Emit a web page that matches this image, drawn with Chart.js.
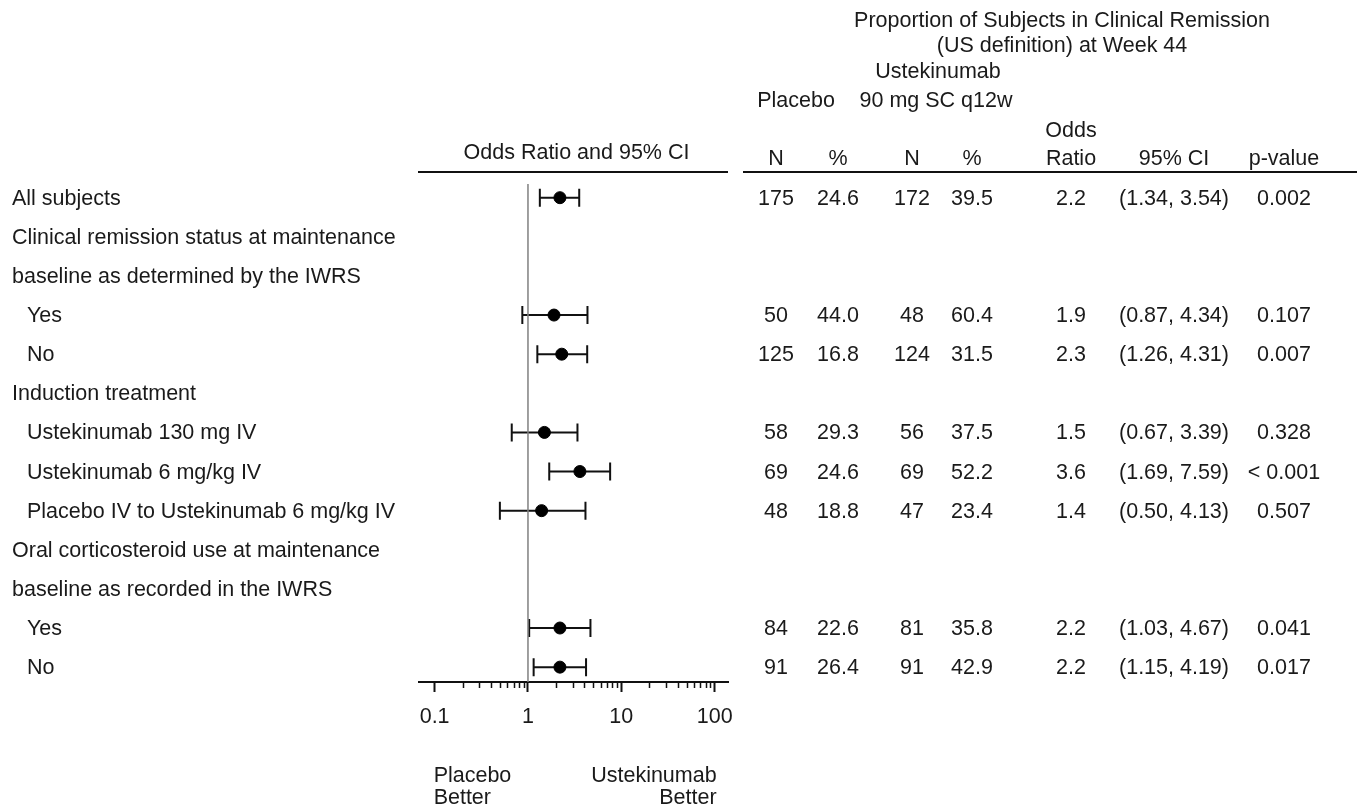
<!DOCTYPE html>
<html>
<head>
<meta charset="utf-8">
<script src="https://cdn.jsdelivr.net/npm/chart.js@4.4.0/dist/chart.umd.min.js"></script>
<style>
  html, body { margin: 0; padding: 0; background: #fff; }
  #wrap { position: relative; width: 1361px; height: 808px; overflow: hidden; }
  #chart { position: absolute; left: 0; top: 0; }
  #text { position: absolute; left: 0; top: 0; width: 1361px; height: 808px; pointer-events: none;
          font-family: "Liberation Sans", Arial, sans-serif; font-size: 21.5px; color: #1a1a1a; }
  #text div { position: absolute; line-height: 24px; white-space: nowrap; }
</style>
</head>
<body>
<div id="wrap">
  <canvas id="chart" width="1361" height="808"></canvas>
  <div id="text"></div>
</div>
<script>
// rows, top to bottom
const rowLabels = [
  'All subjects',
  'Clinical remission status at maintenance',
  'baseline as determined by the IWRS',
  'Yes',
  'No',
  'Induction treatment',
  'Ustekinumab 130 mg IV',
  'Ustekinumab 6 mg/kg IV',
  'Placebo IV to Ustekinumab 6 mg/kg IV',
  'Oral corticosteroid use at maintenance',
  'baseline as recorded in the IWRS',
  'Yes',
  'No'
];
const rowIndent = [0, 0, 0, 1, 1, 0, 1, 1, 1, 0, 0, 1, 1];

const oddsRatio = [2.2, null, null, 1.9, 2.3, null, 1.5, 3.6, 1.4, null, null, 2.2, 2.2];
const ciLow     = [1.34, null, null, 0.87, 1.26, null, 0.67, 1.69, 0.50, null, null, 1.03, 1.15];
const ciHigh    = [3.54, null, null, 4.34, 4.31, null, 3.39, 7.59, 4.13, null, null, 4.67, 4.19];
const placeboN   = [175, null, null, 50, 125, null, 58, 69, 48, null, null, 84, 91];
const placeboPct = [24.6, null, null, 44.0, 16.8, null, 29.3, 24.6, 18.8, null, null, 22.6, 26.4];
const ustN       = [172, null, null, 48, 124, null, 56, 69, 47, null, null, 81, 91];
const ustPct     = [39.5, null, null, 60.4, 31.5, null, 37.5, 52.2, 23.4, null, null, 35.8, 42.9];
const pValues    = ['0.002', null, null, '0.107', '0.007', null, '0.328', '< 0.001', '0.507', null, null, '0.041', '0.017'];

const majorTicks = [0.1, 1, 10, 100];
const minorTicks = [0.2, 0.3, 0.4, 0.5, 0.6, 0.7, 0.8, 0.9, 2, 3, 4, 5, 6, 7, 8, 9, 20, 30, 40, 50, 60, 70, 80, 90];

const colX = [776, 838, 912, 972, 1071, 1174, 1284];
const textLayer = document.getElementById('text');

function addText(str, x, y, align) {
  const d = document.createElement('div');
  d.textContent = str;
  d.style.top = (y - 12) + 'px';
  if (align === 'center') {
    d.style.left = x + 'px';
    d.style.transform = 'translateX(-50%)';
  } else if (align === 'right') {
    d.style.right = (1361 - x) + 'px';
  } else {
    d.style.left = x + 'px';
  }
  textLayer.appendChild(d);
}

const forestPlugin = {
  id: 'forest',
  beforeDatasetsDraw(chart) {
    const { ctx, scales: { x, y } } = chart;
    ctx.save();
    ctx.strokeStyle = '#111';
    ctx.lineWidth = 2;
    oddsRatio.forEach((v, i) => {
      if (v == null) return;
      const py = y.getPixelForValue(i);
      const x0 = x.getPixelForValue(ciLow[i]);
      const x1 = x.getPixelForValue(ciHigh[i]);
      ctx.beginPath();
      ctx.moveTo(x0, py); ctx.lineTo(x1, py);
      ctx.moveTo(x0, py - 9); ctx.lineTo(x0, py + 9);
      ctx.moveTo(x1, py - 9); ctx.lineTo(x1, py + 9);
      ctx.stroke();
    });
    ctx.restore();
  },
  afterDraw(chart) {
    const { ctx, chartArea, scales: { x } } = chart;
    ctx.save();
    ctx.strokeStyle = '#111';
    // minor ticks
    ctx.lineWidth = 1.5;
    ctx.beginPath();
    minorTicks.forEach(v => {
      const px = Math.round(x.getPixelForValue(v)) + 0.5;
      ctx.moveTo(px, chartArea.bottom);
      ctx.lineTo(px, chartArea.bottom + 6);
    });
    ctx.stroke();
    // header rules
    ctx.lineWidth = 2;
    ctx.beginPath();
    ctx.moveTo(chartArea.left - 1, 172); ctx.lineTo(chartArea.right, 172);
    ctx.moveTo(743, 172); ctx.lineTo(1357, 172);
    ctx.stroke();
    ctx.restore();
  },
  afterRender(chart) {
    if (textLayer.childElementCount) return;
    const { x, y } = chart.scales;
    rowLabels.forEach((lab, i) => {
      const py = y.getPixelForValue(i);
      addText(lab, rowIndent[i] ? 27 : 12, py, 'left');
      if (oddsRatio[i] == null) return;
      addText(String(placeboN[i]), colX[0], py, 'center');
      addText(placeboPct[i].toFixed(1), colX[1], py, 'center');
      addText(String(ustN[i]), colX[2], py, 'center');
      addText(ustPct[i].toFixed(1), colX[3], py, 'center');
      addText(oddsRatio[i].toFixed(1), colX[4], py, 'center');
      addText('(' + ciLow[i].toFixed(2) + ', ' + ciHigh[i].toFixed(2) + ')', colX[5], py, 'center');
      addText(pValues[i], colX[6], py, 'center');
    });
    // headers
    addText('Proportion of Subjects in Clinical Remission', 1062, 20, 'center');
    addText('(US definition) at Week 44', 1062, 45, 'center');
    addText('Ustekinumab', 938, 71, 'center');
    addText('Placebo', 796, 100, 'center');
    addText('90 mg SC q12w', 936, 100, 'center');
    addText('Odds', colX[4], 130, 'center');
    addText('Odds Ratio and 95% CI', (chart.chartArea.left + chart.chartArea.right) / 2 + 3, 152, 'center');
    ['N', '%', 'N', '%', 'Ratio', '95% CI', 'p-value'].forEach((h, k) => addText(h, colX[k], 158, 'center'));
    // direction labels under the axis
    const xl = x.getPixelForValue(0.1), xr = x.getPixelForValue(100);
    addText('Placebo', xl - 1, 775, 'left');
    addText('Better', xl - 1, 797, 'left');
    addText('Ustekinumab', xr + 2, 775, 'right');
    addText('Better', xr + 2, 797, 'right');
  }
};

const points = [];
oddsRatio.forEach((v, i) => { if (v != null) points.push({ x: v, y: i }); });

new Chart(document.getElementById('chart'), {
  type: 'scatter',
  data: {
    datasets: [
      {
        type: 'line',
        data: [{ x: 1, y: -0.35 }, { x: 1, y: 12.38 }],
        borderColor: '#808080',
        borderWidth: 1.5,
        pointRadius: 0
      },
      {
        data: points,
        backgroundColor: '#000',
        borderColor: '#000',
        pointRadius: 6,
        pointHoverRadius: 6
      }
    ]
  },
  options: {
    responsive: false,
    animation: false,
    devicePixelRatio: 1,
    layout: { padding: { left: 419, right: 633, top: 184, bottom: 76 } },
    plugins: { legend: { display: false }, tooltip: { enabled: false } },
    scales: {
      x: {
        type: 'logarithmic',
        min: 0.068,
        max: 139,
        afterBuildTicks: s => { s.ticks = majorTicks.map(v => ({ value: v })); },
        afterFit: s => { s.height = 50; },
        border: { display: true, color: '#111', width: 2 },
        grid: { drawOnChartArea: false, drawTicks: true, tickLength: 10, tickWidth: 2, tickColor: '#111', color: '#111' },
        ticks: {
          autoSkip: false,
          maxRotation: 0,
          padding: 12,
          color: '#1a1a1a',
          font: { family: '"Liberation Sans", Arial, sans-serif', size: 21.5 },
          callback: v => String(v)
        }
      },
      y: {
        type: 'linear',
        reverse: true,
        min: -0.35,
        max: 12.38,
        display: false
      }
    }
  },
  plugins: [forestPlugin]
});
</script>
</body>
</html>
